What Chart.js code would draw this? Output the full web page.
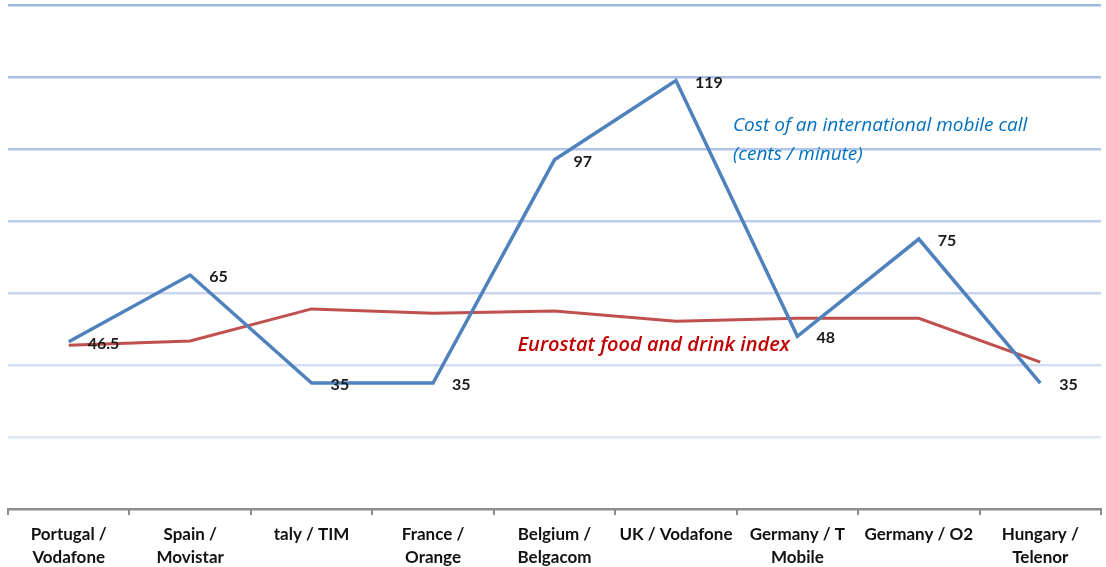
<!DOCTYPE html>
<html>
<head>
<meta charset="utf-8">
<script src="https://cdn.jsdelivr.net/npm/chart.js@4.4.1/dist/chart.umd.min.js"></script>
<style>
  html, body { margin: 0; padding: 0; background: #fff; }
  #wrap { width: 1106px; height: 567px; }
</style>
</head>
<body>
<div id="wrap"><canvas id="chart"></canvas></div>
<script>
// Operators and values
const categories = [
  ['Portugal /', 'Vodafone'], ['Spain /', 'Movistar'], 'taly / TIM', ['France /', 'Orange'],
  ['Belgium /', 'Belgacom'], 'UK / Vodafone', ['Germany / T', 'Mobile'], 'Germany / O2', ['Hungary /', 'Telenor']
];
const callCost   = [46.5, 65, 35, 35, 97, 119, 48, 75, 35];
const foodIndex  = [45.5, 46.7, 55.6, 54.4, 55, 52.2, 53, 53, 40.8];
const callLabels = ['46.5', '65', '35', '35', '97', '119', '48', '75', '35'];
const yTicks     = [0, 20, 40, 60, 80, 100, 120, 140];
const gridColors = ['#8c8c8c', '#dfe7f5', '#d3def1', '#c8d6ed', '#bccce9', '#b0c4e6', '#a8bee3', '#a0b8e0'];

// data labels next to the blue points + the two italic captions
const textPlugin = {
  id: 'texts',
  afterDatasetsDraw(chart) {
    const ctx = chart.ctx;
    const meta = chart.getDatasetMeta(0);
    const x = chart.scales.x, y = chart.scales.y;
    ctx.save();
    ctx.font = 'bold 16px Lato, "Open Sans", sans-serif';
    ctx.fillStyle = '#1a1a1a';
    ctx.textBaseline = 'middle';
    ctx.textAlign = 'left';
    meta.data.forEach((pt, i) => {
      ctx.fillText(callLabels[i], pt.x + 19, pt.y + 2);
    });

    ctx.font = 'italic 19px "Open Sans", Lato, sans-serif';
    ctx.fillStyle = '#0070c0';
    const cx = x.getPixelForValue(5) + 57;
    ctx.fillText('Cost of an international mobile call', cx, y.getPixelForValue(106.5));
    ctx.fillText('(cents / minute)', cx, y.getPixelForValue(98.5));

    ctx.font = 'italic 600 20px "Open Sans", Lato, sans-serif';
    ctx.fillStyle = '#c00000';
    ctx.fillText('Eurostat food and drink index', x.getPixelForValue(4) - 37, y.getPixelForValue(45.5));
    ctx.restore();
  }
};

new Chart(document.getElementById('chart'), {
  type: 'line',
  data: {
    labels: categories,
    datasets: [
      {
        label: 'Cost of an international mobile call',
        data: callCost,
        borderColor: '#4f81bd',
        borderWidth: 3.5,
        pointRadius: 0,
        tension: 0,
        fill: false
      },
      {
        label: 'Eurostat food and drink index',
        data: foodIndex,
        borderColor: '#c0504d',
        borderWidth: 3,
        pointRadius: 0,
        tension: 0,
        fill: false
      }
    ]
  },
  options: {
    responsive: true,
    maintainAspectRatio: false,
    animation: false,
    layout: { padding: { left: 8, right: 5, top: 5, bottom: -10 } },
    plugins: {
      legend:  { display: false },
      tooltip: { enabled: false }
    },
    scales: {
      x: {
        offset: true,
        grid: {
          display: true,
          drawOnChartArea: false,
          drawTicks: true,
          tickLength: 6,
          offset: true,
          color: '#8c8c8c',
          lineWidth: 2
        },
        border: { display: true, color: '#8c8c8c', width: 2 },
        ticks: {
          color: '#111',
          font: { family: 'Lato, "Open Sans", sans-serif', size: 17, weight: 'bold', lineHeight: 1.35 },
          maxRotation: 0,
          autoSkip: false,
          padding: 8
        }
      },
      y: {
        min: 0,
        max: 140,
        afterBuildTicks: axis => { axis.ticks = yTicks.map(v => ({ value: v })); },
        grid: {
          color: ctx => gridColors[ctx.index] || '#c8d6ed',
          lineWidth: 2.5,
          drawTicks: false
        },
        border: { display: false },
        ticks: { display: false }
      }
    }
  },
  plugins: [textPlugin]
});
</script>
</body>
</html>
